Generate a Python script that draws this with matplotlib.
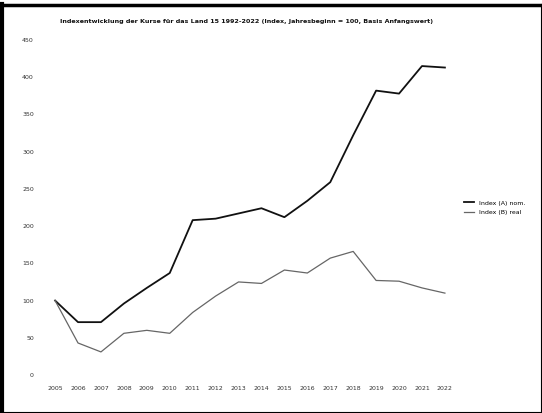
import numpy as np
import matplotlib.pyplot as plt
from matplotlib.lines import Line2D

years = [str(y) for y in range(2005, 2023)]
index_a = [100, 71, 71, 96, 117, 137, 208, 210, 217, 224, 212, 234, 259, 322, 382, 378, 415, 413]
index_b = [100, 43, 31, 56, 60, 56, 84, 106, 125, 123, 141, 137, 157, 166, 127, 126, 117, 110]
y_ticks = list(range(0, 451, 50))

title = 'Indexentwicklung der Kurse für das Land 15 1992-2022 (Index, Jahresbeginn = 100, Basis Anfangswert)'
labels = ['Index (A) nom.', 'Index (B) real']

fig = plt.figure(figsize=(5.42, 4.13), dpi=100)
ax = fig.add_axes([45 / 542, 38 / 413, 410 / 542, 335 / 413])

x = np.arange(len(years))
ax.plot(x, index_a, color='#111111', lw=1.3, label=labels[0])
ax.plot(x, index_b, color='#666666', lw=0.9, label=labels[1])

ax.set_xlim(-0.44, len(years) - 1 + 0.44)
ax.set_ylim(0, 450)
ax.set_xticks(x)
ax.set_xticklabels(years, fontsize=4.5, color='#333333')
ax.set_yticks(y_ticks)
ax.set_yticklabels([str(v) for v in y_ticks], fontsize=4.5, color='#333333')
ax.tick_params(length=0, pad=8)
for s in ax.spines.values():
    s.set_visible(False)

fig.text(0.5 * (57 + 435) / 542, 1 - 22 / 413, title, fontsize=4.6, fontweight='bold',
         ha='center', va='center', color='#111111')

ax.legend(loc='center left', bbox_to_anchor=(462 / 410 - 45 / 410, 0.5), frameon=False,
          fontsize=4.5, handlelength=1.6, labelspacing=0.6, borderaxespad=0)

# scanned border: heavy on left and top, thin on right and bottom
fig.add_artist(Line2D([0.004, 0.004], [0.0, 0.99], transform=fig.transFigure, color='black', lw=3))
fig.add_artist(Line2D([0.0, 1.0], [0.988, 0.988], transform=fig.transFigure, color='black', lw=2.5))
fig.add_artist(Line2D([0.998, 0.998], [0.0, 0.99], transform=fig.transFigure, color='black', lw=0.8))
fig.add_artist(Line2D([0.0, 1.0], [0.002, 0.002], transform=fig.transFigure, color='black', lw=0.8))

plt.savefig('out.png', dpi=100)
